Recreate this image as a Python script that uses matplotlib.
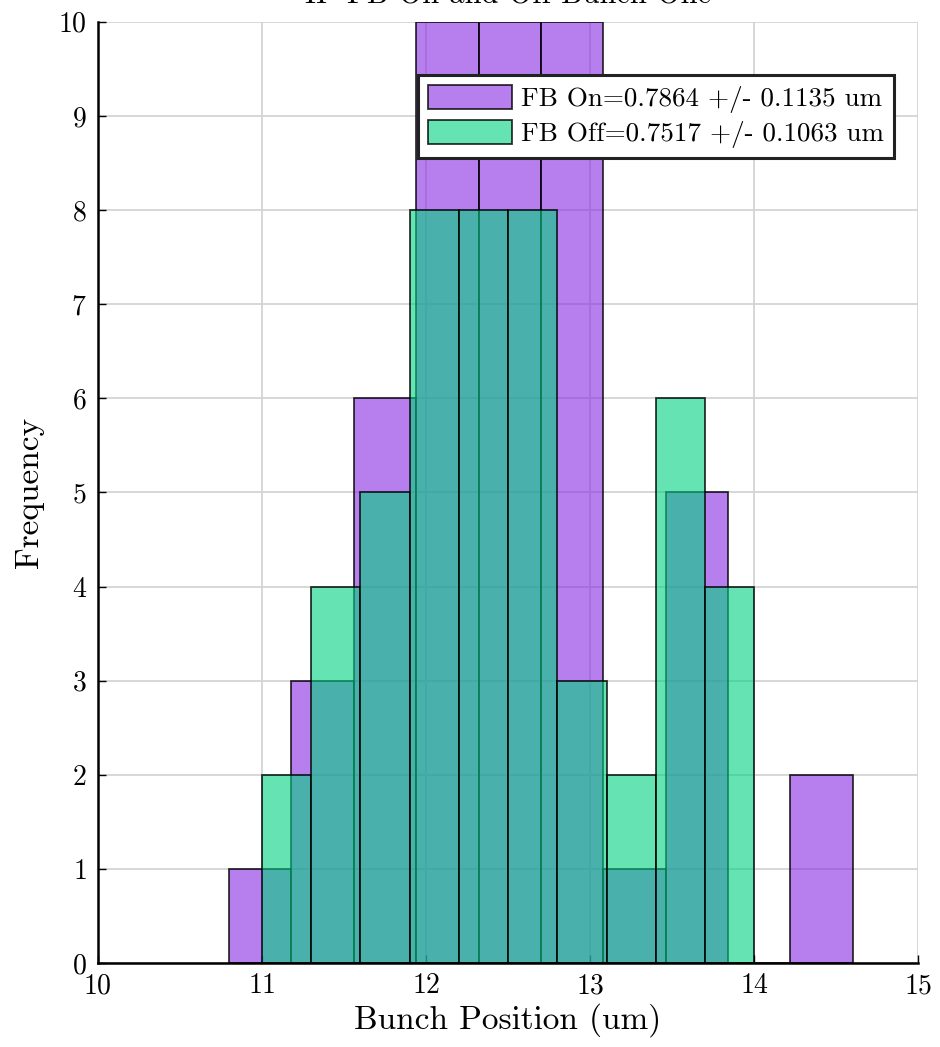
import numpy as np
import matplotlib.pyplot as plt
from matplotlib.patches import Patch

plt.rcParams['font.family'] = 'cmr10'
plt.rcParams['axes.unicode_minus'] = False
plt.rcParams['axes.formatter.use_mathtext'] = True

# FB On histogram (bin edges and counts)
on_edges = [10.80, 11.18, 11.56, 11.94, 12.32, 12.70, 13.08, 13.46, 13.84, 14.22, 14.60]
on_counts = [1, 3, 6, 10, 10, 10, 1, 5, 0, 2]
# FB Off histogram
off_edges = [11.0, 11.3, 11.6, 11.9, 12.2, 12.5, 12.8, 13.1, 13.4, 13.7, 14.0]
off_counts = [2, 4, 5, 8, 8, 8, 3, 2, 6, 4]

on_label = 'FB On=0.7864 +/- 0.1135 um'
off_label = 'FB Off=0.7517 +/- 0.1063 um'

on_face = (0.53, 0.165, 0.89, 0.6)
off_face = (0.0, 0.82, 0.5, 0.6)
edge = (0, 0, 0, 0.8)

fig = plt.figure(figsize=(9.4, 10.47), dpi=100)
ax = fig.add_axes([0.104, 0.0802, 0.873, 0.899])

ax.set_axisbelow(True)
ax.grid(True, color='#d4d4d4', linewidth=1.3)

ax.hist(on_edges[:-1], bins=on_edges, weights=on_counts, facecolor=on_face,
        edgecolor=edge, linewidth=1.3)
ax.hist(off_edges[:-1], bins=off_edges, weights=off_counts, facecolor=off_face,
        edgecolor=edge, linewidth=1.3)

handles = [Patch(facecolor=on_face, edgecolor=edge, linewidth=1.3),
           Patch(facecolor=off_face, edgecolor=edge, linewidth=1.3)]
leg = ax.legend(handles, [on_label, off_label], loc='upper right',
                bbox_to_anchor=(0.97, 0.943), fontsize=19.5, fancybox=False,
                framealpha=1, edgecolor='#222222', handlelength=3.1, handleheight=1.0,
                borderpad=0.35, labelspacing=0.25, handletextpad=0.35, borderaxespad=0)
leg.get_frame().set_linewidth(2.2)

ax.set_xlim(10, 15)
ax.set_ylim(0, 10)
ax.set_xticks(np.arange(10, 16, 1))
ax.set_yticks(np.arange(0, 11, 1))
ax.tick_params(direction='in', labelsize=20, length=6, width=1)
ax.tick_params(axis='x', pad=7)
ax.tick_params(axis='y', pad=8)
ax.spines['top'].set_visible(False)
ax.spines['right'].set_visible(False)
ax.spines['left'].set_linewidth(1.8)
ax.spines['bottom'].set_linewidth(1.8)
ax.set_xlabel('Bunch Position (um)', fontsize=24, labelpad=3)
ax.set_ylabel('Frequency', fontsize=24, labelpad=10)

fig.text(0.54, 1 - 3 / 1047, 'IP FB On and Off Bunch One', ha='center', va='baseline', fontsize=22)

fig.savefig('out.png', dpi=100)
